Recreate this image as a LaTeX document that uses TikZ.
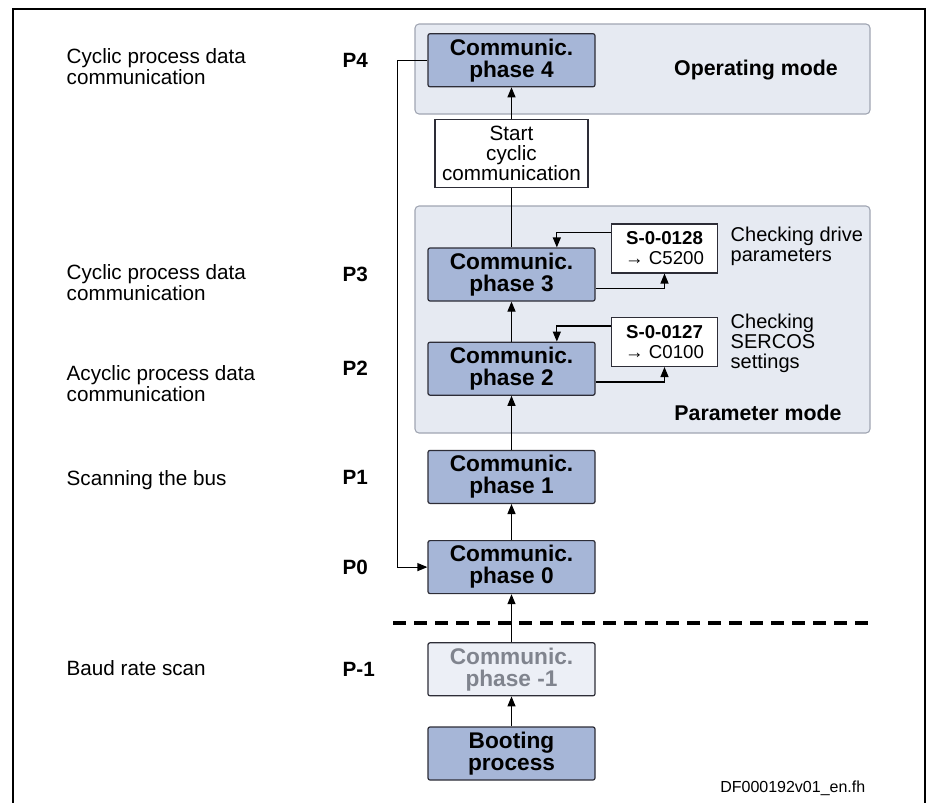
\documentclass[tikz,border=0pt]{standalone}
\usepackage{fontspec}
\setmainfont{Liberation Sans}
\usetikzlibrary{arrows.meta, positioning}
\definecolor{phaseblue}{RGB}{166,182,215}
\definecolor{modebg}{RGB}{230,234,242}
\definecolor{modeline}{RGB}{160,165,178}
\definecolor{ghostfill}{RGB}{236,239,246}
\definecolor{ghosttext}{RGB}{128,132,142}
\definecolor{boxline}{RGB}{45,45,55}

\begin{document}
\begin{tikzpicture}[
  x=0.75pt, y=-0.75pt,
  phase/.style={rectangle, draw=boxline, fill=phaseblue, rounded corners=1.5pt, line width=0.9pt, minimum width=125.25pt, minimum height=39.75pt, inner sep=1pt, align=center, font=\fontsize{17}{16.5}\selectfont\bfseries},
  ghost/.style={phase, fill=ghostfill, text=ghosttext},
  note/.style={rectangle, draw=boxline, fill=white, line width=0.8pt, minimum width=114.75pt, minimum height=51pt, inner sep=1pt, align=center, font=\fontsize{15.5}{15}\selectfont},
  param/.style={rectangle, draw=boxline, fill=white, line width=0.8pt, minimum width=80pt, minimum height=36.75pt, inner sep=1pt, align=center, font=\fontsize{14}{15}\selectfont},
  mode/.style={draw=modeline, fill=modebg, rounded corners=3pt, line width=0.8pt},
  modelbl/.style={font=\fontsize{16}{16}\selectfont\bfseries},
  desc/.style={anchor=west, align=left, font=\fontsize{15.5}{15.75}\selectfont},
  pnum/.style={anchor=west, font=\fontsize{15.5}{15.5}\selectfont\bfseries},
  remark/.style={anchor=west, align=left, font=\fontsize{15}{15}\selectfont},
  arr/.style={-{Triangle[length=7.5pt, width=6pt]}, line width=0.9pt},
  font=\fontsize{15}{16}\selectfont
]
\useasboundingbox (0,0) rectangle (933,803);
\draw[line width=2.2pt] (13,806) -- (13,9) -- (925,9) -- (925,806);

\draw[mode] (415,24) rectangle (870,114);
\draw[mode] (415,206) rectangle (870,433);
\node[modelbl] (opmode) at (756,70) {Operating mode};
\node[modelbl] (parmode) at (758,413) {Parameter mode};

\node[phase] (boot) at (511.5,753.5) {Booting\\process};
\node[ghost, above=22.5pt of boot] (phm1) {Communic.\\phase -1};
\node[phase, above=36pt of phm1] (ph0) {Communic.\\phase 0};
\node[phase, above=27pt of ph0] (ph1) {Communic.\\phase 1};
\node[phase, above=40.5pt of ph1] (ph2) {Communic.\\phase 2};
\node[phase, above=30pt of ph2] (ph3) {Communic.\\phase 3};
\node[note, above=44.25pt of ph3] (start) {Start\\cyclic\\communication};
\node[phase, above=24pt of start] (ph4) {Communic.\\phase 4};

\node[param] (chk128) at (664.5,248.5) {\textbf{S-0-0128}\\→ C5200};
\node[param] (chk127) at (664.5,342) {\textbf{S-0-0127}\\→ C0100};
\node[remark] (rem128) at (726,246) {Checking drive\\parameters};
\node[remark] (rem127) at (726,343) {Checking\\SERCOS\\settings};

\node[desc] (desc4) at (62,66.5) {Cyclic process data\\communication};
\node[desc] (desc3) at (62,282.5) {Cyclic process data\\communication};
\node[desc] (desc2) at (62,384) {Acyclic process data\\communication};
\node[desc] (desc1) at (62,480) {Scanning the bus};
\node[desc] (descm1) at (62,668) {Baud rate scan};
\node[pnum] (p4) at (338,0 |- ph4) {P4};
\node[pnum] (p3) at (338,0 |- ph3) {P3};
\node[pnum] (p2) at (338,0 |- ph2) {P2};
\node[pnum] (p1) at (338,0 |- ph1) {P1};
\node[pnum] (p0) at (338,0 |- ph0) {P0};
\node[pnum] (pm1) at (338,0 |- phm1) {P-1};

\draw[dashed, dash pattern=on 9.75pt off 6pt, line width=2.4pt] (393,623) -- (873,623);

\draw[arr] (boot) -- (phm1);
\draw[arr] (phm1) -- (ph0);
\draw[arr] (ph0) -- (ph1);
\draw[arr] (ph1) -- (ph2);
\draw[arr] (ph2) -- (ph3);
\draw[line width=0.9pt] (ph3) -- (start);
\draw[arr] (start) -- (ph4);
\draw[arr] ([yshift=12pt]chk128.west) -| ([xshift=34pt]ph3.north);
\draw[arr] ([yshift=-10.5pt]ph3.east) -| (chk128.south);
\draw[arr] ([yshift=12pt]chk127.west) -| ([xshift=34pt]ph2.north);
\draw[arr] ([yshift=-10pt]ph2.east) -| (chk127.south);
\draw[arr] (ph4.west) -- ++(-30,0) |- (ph0.west);

\node[anchor=base east, font=\fontsize{12}{12}\selectfont] (docid) at (870,792) {DF000192v01\_en.fh};
\end{tikzpicture}
\end{document}
